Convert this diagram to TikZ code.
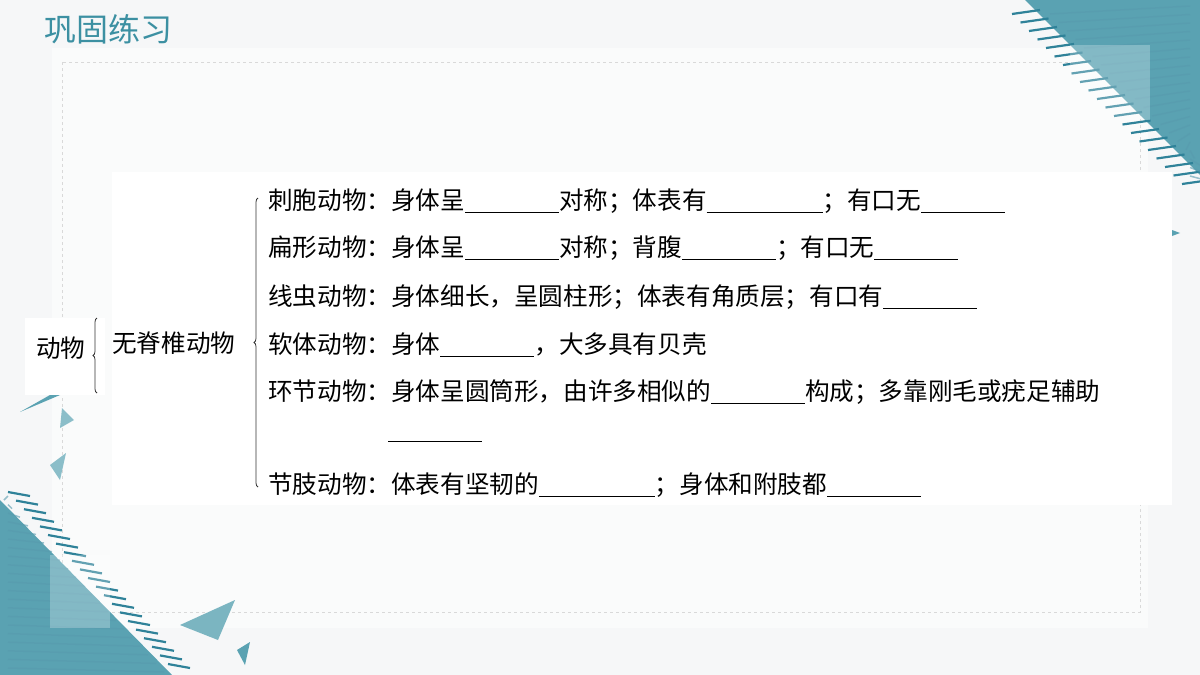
\documentclass[tikz,border=0pt]{standalone}
\usepackage{fontspec}
\setmainfont{Noto Sans CJK SC}
\usetikzlibrary{decorations.pathreplacing}
\definecolor{teal1}{HTML}{5AA2B2}
\definecolor{teal2}{HTML}{2F8299}
\definecolor{titlec}{HTML}{3C90A2}
\definecolor{bg}{HTML}{F6F7F8}
\newcommand{\bl}[1]{\rule[-3pt]{#1pt}{0.8pt}}
\begin{document}
\begin{tikzpicture}[x=1pt,y=-1pt,
  row/.style={anchor=west,inner sep=0pt,font=\fontsize{24.6}{24}\selectfont},
  brc/.style={decorate,decoration={brace,amplitude=4pt},line width=0.8pt,draw=black!80}]
\useasboundingbox (0,0) rectangle (1200,675);
\fill[bg] (0,0) rectangle (1200,675);
\fill[white,opacity=0.5] (52,48) rectangle (1148,628);
\draw[black!15,dashed,line width=1pt] (62,62) rectangle (1140,612);
% top-right decoration
\fill[teal1] (1025,0) -- (1200,0) -- (1200,175) -- cycle;
\foreach \i in {0,...,20}{
  \draw[teal2,line width=2.2pt] ({1012+\i*8.5},{14+\i*8.5}) -- ({1040+\i*8.5},{10+\i*8.5});
  \draw[teal2!80,line width=1.5pt,opacity=0.6] ({1050+\i*8.5},{14+\i*8.5}) -- (1190,{14+\i*8.5-8});
}
\fill[white,opacity=0.25] (1070,45) rectangle (1150,120);
\fill[teal1] (1172,230) -- (1180,233) -- (1172,236) -- cycle;
% bottom-left decoration
\fill[teal1] (0,500) -- (0,675) -- (172,675) -- cycle;
\foreach \i in {0,...,20}{
  \draw[teal2,line width=2.2pt] ({8+\i*8},{492+\i*8.6}) -- ({30+\i*8},{496+\i*8.6});
  \draw[teal2!80,line width=1.5pt,opacity=0.6] (8,{496+\i*8.6}) -- ({4+\i*8},{500+\i*8.6});
}
\fill[white,opacity=0.25] (50,555) rectangle (110,628);
\fill[teal1] (20,412) -- (60,395) -- (50,395) -- cycle;
\fill[teal1!70] (62,408) -- (74,420) -- (60,428) -- cycle;
\fill[teal1!70] (50,465) -- (66,453) -- (60,480) -- cycle;
\fill[teal1!80] (180,625) -- (235,600) -- (218,640) -- cycle;
\fill[teal1] (237,650) -- (250,642) -- (245,665) -- cycle;
% title
\node[anchor=west,inner sep=0pt,text=titlec,font=\fontsize{32}{32}\selectfont] (title) at (44,29) {巩固练习};
% white panels
\fill[white] (112,172) rectangle (1172,505);
\fill[white] (25,318) rectangle (105,395);
\node[row] (dw) at (36,348) {动物};
\draw[brc] (97,393) -- (97,318);
\node[row] (wjz) at (112,343) {无脊椎动物};
\draw[brc] (258,487) -- (258,198);
\node[row] (r1) at (268,201) {刺胞动物：身体呈\bl{94}对称；体表有\bl{116}；有口无\bl{84}};
\node[row] (r2) at (268,248) {扁形动物：身体呈\bl{94}对称；背腹\bl{94}；有口无\bl{84}};
\node[row] (r3) at (268,297) {线虫动物：身体细长，呈圆柱形；体表有角质层；有口有\bl{94}};
\node[row] (r4) at (268,345) {软体动物：身体\bl{94}，大多具有贝壳};
\node[row] (r5) at (268,392) {环节动物：身体呈圆筒形，由许多相似的\bl{94}构成；多靠刚毛或疣足辅助};
\node[row] (r5b) at (388,440) {\bl{94}};
\node[row] (r6) at (268,485) {节肢动物：体表有坚韧的\bl{116}；身体和附肢都\bl{94}};
\end{tikzpicture}
\end{document}
